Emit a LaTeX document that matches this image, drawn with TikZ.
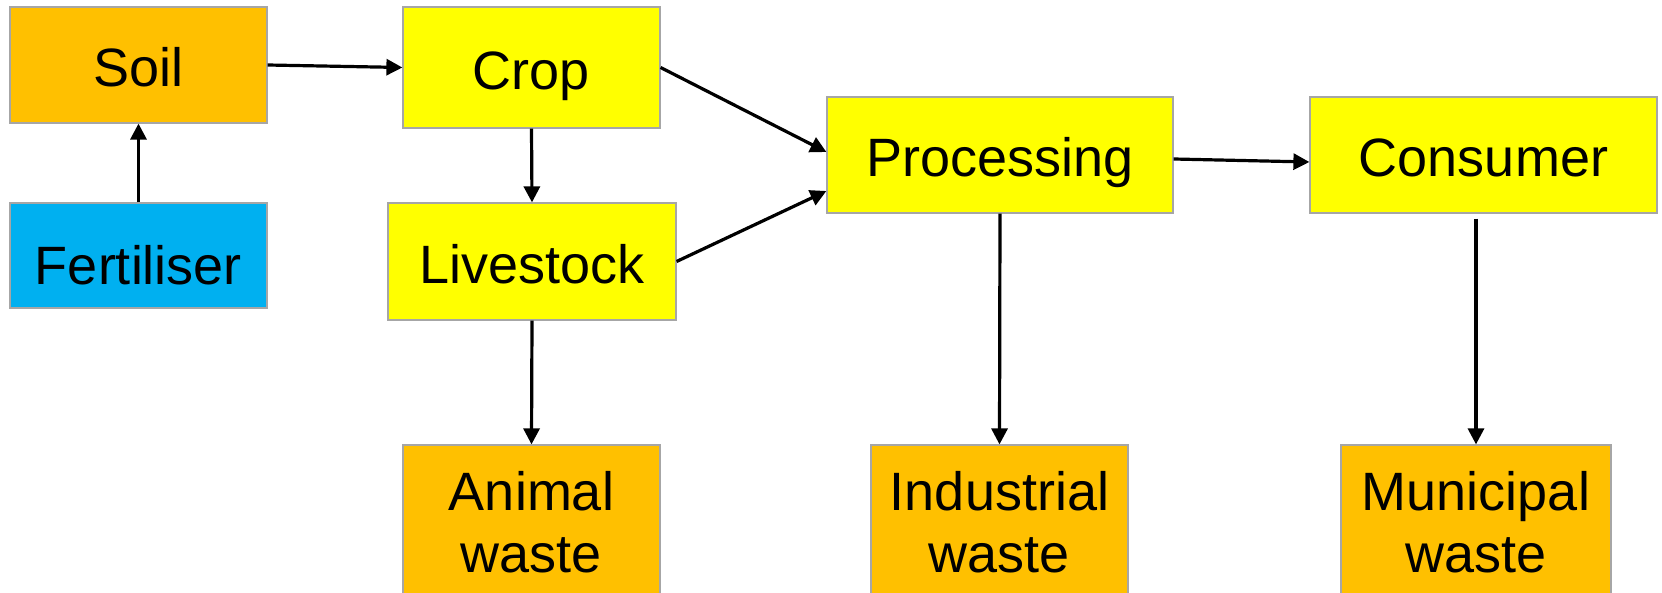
\documentclass[tikz,border=0pt]{standalone}
\usepackage{fontspec}
\setmainfont{Liberation Sans}
\usetikzlibrary{arrows.meta}
\definecolor{flowOrange}{HTML}{FFC000}
\definecolor{flowYellow}{HTML}{FFFF00}
\definecolor{flowBlue}{HTML}{00B0F0}
\definecolor{flowEdge}{HTML}{A6A6A6}
\tikzset{
  flow box/.style={draw=flowEdge, line width=0.6pt, inner sep=0pt, align=center,
    font=\fontsize{27}{31}\selectfont},
  one line/.style={text height=22pt, text depth=0pt},
  flow arrow/.style={draw=black, line width=1.6pt, -{Triangle[length=8pt,width=8pt]}},
}
\begin{document}
\begin{tikzpicture}[
  x=0.5pt, y=-0.5pt,
  source/.style={flow box, one line, fill=flowOrange},
  input/.style={flow box, one line, fill=flowBlue},
  stage/.style={flow box, one line, fill=flowYellow},
  waste/.style={flow box, fill=flowOrange, minimum height=77pt}
]
  \clip (0,0) rectangle (1662,593);
  \node[source, minimum width=128.5pt, minimum height=58pt] (soil) at (138.5,65) {Soil};
  \node[input, minimum width=128.5pt, minimum height=52.5pt, text height=29pt] (fert) at (138.5,255.5) {Fertiliser};
  \node[stage, minimum width=128.5pt, minimum height=60.5pt] (crop) at (531.5,67.5) {Crop};
  \node[stage, minimum width=144pt, minimum height=58.5pt] (live) at (532,261.5) {Livestock};
  \node[stage, minimum width=173pt, minimum height=58pt] (proc) at (1000,155) {Processing};
  \node[stage, minimum width=173.5pt, minimum height=58pt] (cons) at (1483.5,155) {Consumer};
  \node[waste, minimum width=128.5pt] (animal) at (531.5,522) {Animal\\waste};
  \node[waste, minimum width=128.5pt] (indus) at (999.5,522) {Industrial\\waste};
  \node[waste, minimum width=135pt] (munic) at (1476,522) {Municipal\\waste};

  \draw[flow arrow] (fert.north) -- (soil.south);
  \draw[flow arrow] (soil.east) -- (crop.west);
  \draw[flow arrow] (crop.south) -- (live.north);
  \draw[flow arrow] (crop.east) -- ([yshift=1.5pt]proc.west);
  \draw[flow arrow] (live.east) -- ([yshift=-18pt]proc.west);
  \draw[flow arrow] ([yshift=-2pt]proc.east) -- ([yshift=-3.5pt]cons.west);
  \draw[flow arrow] (live.south) -- (animal.north);
  \draw[flow arrow] (proc.south) -- (indus.north);
  \draw[flow arrow] ([yshift=-2.5pt]cons.south -| munic.north) -- (munic.north);
\end{tikzpicture}
\end{document}
